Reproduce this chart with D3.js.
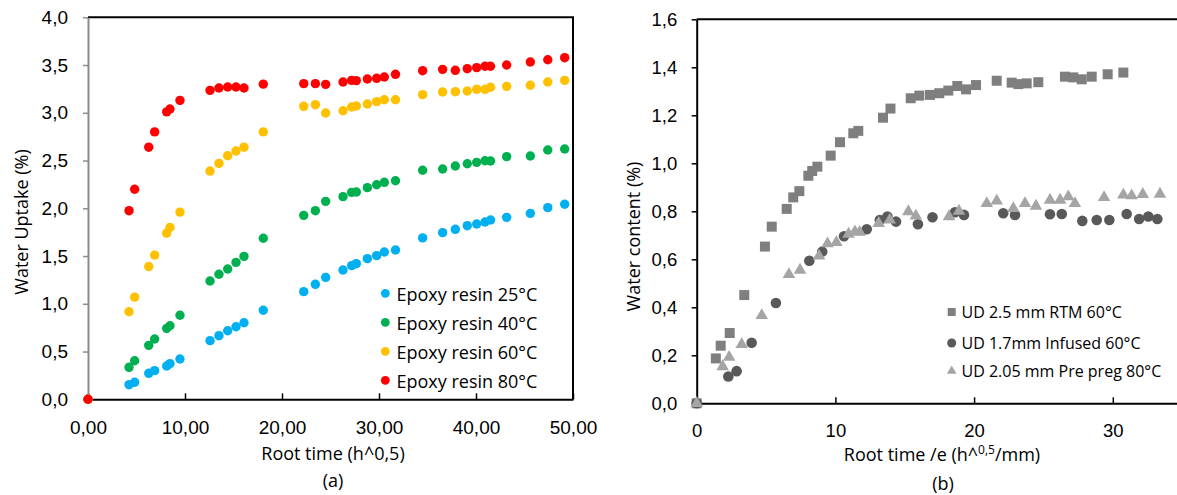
<!DOCTYPE html>
<html><head><meta charset="utf-8">
<script src="https://cdn.jsdelivr.net/npm/d3@7"></script>
<style>
html,body{margin:0;padding:0;background:#fff;}
svg{display:block;font-family:"Open Sans",sans-serif;}
</style></head>
<body><svg id="c" width="1177" height="495"></svg>
<script>
// ---------- Chart (a) data ----------
const rootTimeA = [0, 4.23, 4.81, 6.26, 6.87, 8.11, 8.45, 9.48, 12.58, 13.5, 14.4, 15.26, 16.08, 18.07, 22.24, 23.44, 24.5, 26.29, 27.18, 27.66, 28.8, 29.76, 30.55, 31.7, 34.5, 36.56, 37.87, 39.1, 40.07, 40.93, 41.5, 43.16, 45.6, 47.4, 49.14];
const uptake25 = [0, 0.153, 0.178, 0.272, 0.30, 0.349, 0.373, 0.422, 0.614, 0.666, 0.718, 0.76, 0.802, 0.932, 1.127, 1.204, 1.277, 1.354, 1.40, 1.42, 1.473, 1.504, 1.542, 1.563, 1.69, 1.745, 1.78, 1.818, 1.836, 1.857, 1.878, 1.905, 1.947, 2.007, 2.042];
const uptake40 = [0, 0.335, 0.404, 0.565, 0.631, 0.743, 0.77, 0.88, 1.239, 1.309, 1.364, 1.434, 1.497, 1.686, 1.926, 1.975, 2.073, 2.122, 2.167, 2.171, 2.216, 2.247, 2.272, 2.289, 2.398, 2.411, 2.443, 2.467, 2.481, 2.498, 2.495, 2.541, 2.548, 2.61, 2.621];
const uptake60 = [0, 0.917, 1.07, 1.39, 1.51, 1.74, 1.80, 1.96, 2.39, 2.47, 2.55, 2.60, 2.64, 2.80, 3.068, 3.085, 2.998, 3.022, 3.061, 3.071, 3.092, 3.117, 3.137, 3.137, 3.19, 3.218, 3.221, 3.228, 3.246, 3.246, 3.267, 3.277, 3.288, 3.322, 3.34];
const uptake80 = [0, 1.975, 2.20, 2.64, 2.80, 3.01, 3.04, 3.13, 3.235, 3.26, 3.27, 3.27, 3.26, 3.30, 3.305, 3.305, 3.298, 3.322, 3.34, 3.337, 3.354, 3.361, 3.375, 3.403, 3.441, 3.455, 3.445, 3.462, 3.473, 3.487, 3.487, 3.50, 3.532, 3.556, 3.577];
const seriesNamesA = ["Epoxy resin 25°C", "Epoxy resin 40°C", "Epoxy resin 60°C", "Epoxy resin 80°C"];
const xTicksA = [0, 10, 20, 30, 40, 50];
const yTicksA = [0, 0.5, 1, 1.5, 2, 2.5, 3, 3.5, 4];

// ---------- Chart (b) data ----------
const rtmX = [0, 1.38, 1.73, 2.38, 3.43, 4.92, 5.41, 6.49, 6.96, 7.4, 8.05, 8.33, 8.7, 9.66, 10.33, 11.29, 11.65, 13.43, 13.97, 15.43, 16.05, 16.82, 17.49, 18.14, 18.79, 19.42, 20.14, 21.63, 22.71, 23.19, 23.79, 24.63, 26.55, 27.15, 27.76, 28.48, 29.63, 30.76];
const rtmY = [0, 0.187, 0.24, 0.293, 0.451, 0.653, 0.736, 0.81, 0.858, 0.884, 0.948, 0.968, 0.986, 1.032, 1.088, 1.125, 1.135, 1.19, 1.228, 1.271, 1.282, 1.285, 1.292, 1.303, 1.322, 1.308, 1.326, 1.344, 1.336, 1.33, 1.333, 1.338, 1.361, 1.358, 1.35, 1.361, 1.371, 1.378];
const infX = [0, 2.28, 2.88, 3.96, 5.71, 8.12, 9.05, 10.62, 12.26, 13.2, 13.75, 14.37, 15.95, 17.0, 18.62, 19.27, 22.1, 22.95, 25.47, 26.32, 27.8, 28.84, 29.75, 31.0, 31.9, 32.56, 33.21];
const infY = [0, 0.112, 0.134, 0.252, 0.418, 0.594, 0.632, 0.696, 0.725, 0.764, 0.778, 0.757, 0.746, 0.775, 0.796, 0.785, 0.792, 0.785, 0.788, 0.789, 0.76, 0.764, 0.764, 0.789, 0.768, 0.778, 0.768];
const prepX = [0, 1.87, 2.34, 3.24, 4.69, 6.65, 7.45, 8.82, 9.43, 10.07, 10.95, 11.41, 11.75, 13.12, 13.92, 15.26, 15.8, 18.19, 18.91, 20.91, 21.63, 22.83, 23.67, 24.46, 25.47, 26.2, 26.79, 27.27, 29.37, 30.76, 31.36, 32.16, 33.4];
const prepY = [0, 0.153, 0.192, 0.245, 0.366, 0.537, 0.555, 0.614, 0.665, 0.67, 0.705, 0.715, 0.713, 0.75, 0.764, 0.799, 0.781, 0.778, 0.801, 0.833, 0.843, 0.812, 0.833, 0.822, 0.847, 0.847, 0.861, 0.833, 0.858, 0.868, 0.865, 0.871, 0.872];
const seriesNamesB = ["UD 2.5 mm RTM 60°C", "UD 1.7mm Infused 60°C", "UD 2.05 mm Pre preg 80°C"];
const xTicksB = [0, 10, 20, 30];
const yTicksB = [0, 0.2, 0.4, 0.6, 0.8, 1.0, 1.2, 1.4, 1.6];

// ---------- drawing ----------
const loc = d3.formatLocale({decimal: ",", thousands: ".", grouping: [3], currency: ["", ""]});
const svg = d3.select("#c");

// ===== Chart (a) =====
const colorsA = ["#00B0F0", "#00B050", "#FFC000", "#FF0000"];
const seriesA = [uptake25, uptake40, uptake60, uptake80];
const xA = d3.scaleLinear().domain([0, 50]).range([88, 573]);
const yA = d3.scaleLinear().domain([0, 4]).range([399.3, 17.3]);
const gA = svg.append("g");

gA.append("path").attr("d", `M${xA(0)},${yA(4)}H${xA(50)}V${yA(0)}`).attr("fill", "none").attr("stroke", "#000").attr("stroke-width", 2);

const axXA = gA.append("g").attr("transform", `translate(0,${yA(0)})`)
  .call(d3.axisBottom(xA).tickValues(xTicksA).tickSizeInner(-6).tickSizeOuter(0).tickPadding(21).tickFormat(loc.format(".2f")));
axXA.select(".domain").attr("stroke", "#000").attr("stroke-width", 2);
axXA.selectAll(".tick line").attr("stroke", "#000").attr("stroke-width", 1.5);
axXA.selectAll("text").attr("font-size", 19).attr("fill", "#000");

const axYA = gA.append("g").attr("transform", `translate(${xA(0)},0)`)
  .call(d3.axisLeft(yA).tickValues(yTicksA).tickSizeInner(5).tickSizeOuter(0).tickPadding(15).tickFormat(loc.format(".1f")));
axYA.select(".domain").attr("stroke", "#8C8C8C").attr("stroke-width", 2);
axYA.selectAll(".tick line").attr("stroke", "#8C8C8C").attr("stroke-width", 1.5);
axYA.selectAll("text").attr("font-size", 19).attr("fill", "#000");

seriesA.forEach((ys, i) => {
  gA.append("g").selectAll("circle").data(ys).join("circle")
    .attr("cx", (d, j) => xA(rootTimeA[j])).attr("cy", d => yA(d)).attr("r", 4.7).attr("fill", colorsA[i]);
});

const legA = gA.append("g");
seriesNamesA.forEach((n, i) => {
  const yy = 293.3 + i * 29;
  legA.append("circle").attr("cx", 385.3).attr("cy", yy).attr("r", 4.4).attr("fill", colorsA[i]);
  legA.append("text").attr("x", 396.5).attr("y", yy + 7.3).attr("font-size", 18).attr("fill", "#000").text(n);
});

gA.append("text").attr("transform", "translate(28,222) rotate(-90)").attr("text-anchor", "middle").attr("font-size", 18).attr("fill", "#000").text("Water Uptake (%)");
gA.append("text").attr("x", 333).attr("y", 460).attr("text-anchor", "middle").attr("font-size", 18).attr("fill", "#000").text("Root time (h^0,5)");
gA.append("text").attr("x", 333).attr("y", 486.5).attr("text-anchor", "middle").attr("font-size", 18).attr("fill", "#000").text("(a)");

// ===== Chart (b) =====
const xB = d3.scaleLinear().domain([0, 35]).range([696.7, 696.7 + 35 * 13.87]);
const yB = d3.scaleLinear().domain([0, 1.6]).range([403.3, 19.3]);
const gB = svg.append("g");

gB.append("path").attr("d", `M${xB(0)},${yB(1.6)}H${xB(35)}V${yB(0)}`).attr("fill", "none").attr("stroke", "#000").attr("stroke-width", 2);

const axXB = gB.append("g").attr("transform", `translate(0,${yB(0)})`)
  .call(d3.axisBottom(xB).tickValues(xTicksB).tickSizeInner(-6).tickSizeOuter(0).tickPadding(21).tickFormat(loc.format("d")));
axXB.select(".domain").attr("stroke", "#000").attr("stroke-width", 2);
axXB.selectAll(".tick line").attr("stroke", "#000").attr("stroke-width", 1.5);
axXB.selectAll("text").attr("font-size", 18.5).attr("fill", "#000");

const axYB = gB.append("g").attr("transform", `translate(${xB(0)},0)`)
  .call(d3.axisLeft(yB).tickValues(yTicksB).tickSizeInner(5).tickSizeOuter(0).tickPadding(14.5).tickFormat(loc.format(".1f")));
axYB.select(".domain").attr("stroke", "#000").attr("stroke-width", 2);
axYB.selectAll(".tick line").attr("stroke", "#000").attr("stroke-width", 1.5);
axYB.selectAll("text").attr("font-size", 18.5).attr("fill", "#000");

const symB = [d3.symbolSquare, d3.symbolCircle, d3.symbolTriangle];
const sizeB = [100, 88, 68];
const colorsB = ["#7F7F7F", "#595959", "#A5A5A5"];
const dataB = [[rtmX, rtmY], [infX, infY], [prepX, prepY]];
dataB.forEach(([xs, ys], i) => {
  const sym = d3.symbol().type(symB[i]).size(sizeB[i]);
  gB.append("g").selectAll("path").data(ys).join("path")
    .attr("d", sym).attr("transform", (d, j) => `translate(${xB(xs[j])},${yB(d)})`).attr("fill", colorsB[i]);
});

const legB = gB.append("g");
const legSizesB = [64, 64, 40];
const legRowsB = [312, 343, 371];
seriesNamesB.forEach((n, i) => {
  const yy = legRowsB[i];
  legB.append("path").attr("d", d3.symbol().type(symB[i]).size(legSizesB[i])).attr("transform", `translate(951.7,${yy})`).attr("fill", colorsB[i]);
  legB.append("text").attr("x", 961.5).attr("y", yy + 5.8).attr("font-size", 16).attr("fill", "#000").text(n);
});

gB.append("text").attr("transform", "translate(640,236.5) rotate(-90)").attr("text-anchor", "middle").attr("font-size", 18).attr("fill", "#000").text("Water content (%)");
const tB = gB.append("text").attr("x", 942).attr("y", 461).attr("text-anchor", "middle").attr("font-size", 18).attr("fill", "#000");
tB.append("tspan").text("Root time /e (h^");
tB.append("tspan").attr("font-size", 12).attr("dy", -7).text("0,5");
tB.append("tspan").attr("dy", 7).text("/mm)");
gB.append("text").attr("x", 943).attr("y", 489.5).attr("text-anchor", "middle").attr("font-size", 18).attr("fill", "#000").text("(b)");
</script></body></html>
